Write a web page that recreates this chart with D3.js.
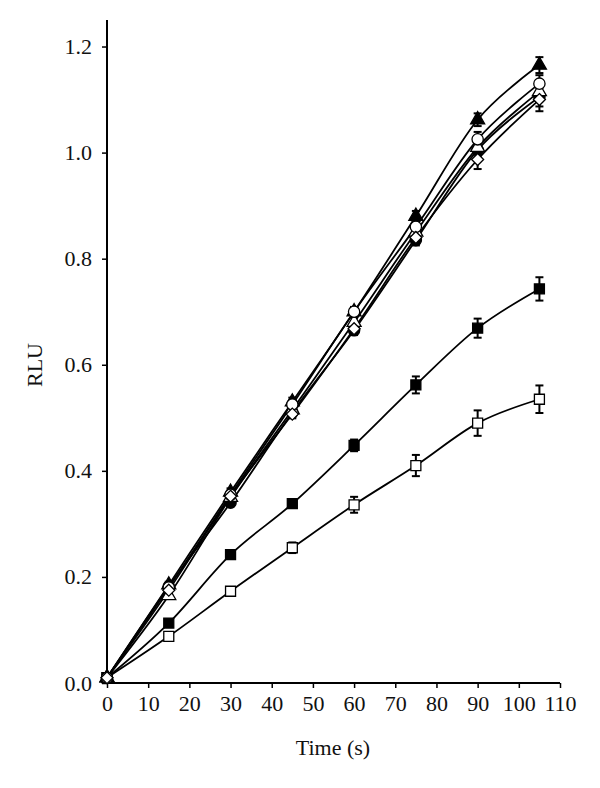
<!DOCTYPE html>
<html>
<head>
<meta charset="utf-8">
<title>RLU vs time</title>
<script src="https://d3js.org/d3.v7.min.js"></script>
<style>
  body { margin: 0; background: #fff; }
  text { font-family: "Liberation Serif", "DejaVu Serif", serif; fill: #111; }
</style>
</head>
<body>
<div id="chart"></div>
<script>
// time points (s)
var times = [0, 15, 30, 45, 60, 75, 90, 105];

// series values (RLU)
var triFilled   = [0.010, 0.185, 0.360, 0.530, 0.700, 0.880, 1.062, 1.165];
var circleOpen  = [0.010, 0.180, 0.355, 0.525, 0.700, 0.860, 1.025, 1.130];
var triOpen     = [0.010, 0.165, 0.350, 0.515, 0.680, 0.850, 1.010, 1.115];
var circleFill  = [0.010, 0.182, 0.340, 0.510, 0.665, 0.835, 1.005, 1.105];
var diamondOpen = [0.010, 0.175, 0.352, 0.507, 0.668, 0.840, 0.987, 1.100];
var squareFill  = [0.010, 0.113, 0.242, 0.338, 0.448, 0.562, 0.669, 0.743];
var squareOpen  = [0.010, 0.088, 0.173, 0.255, 0.336, 0.410, 0.490, 0.535];

// error bar half-widths
var triFilledErr   = [0.004, 0.006, 0.007, 0.008, 0.009, 0.010, 0.012, 0.015];
var circleOpenErr  = [0.004, 0.006, 0.007, 0.008, 0.009, 0.010, 0.014, 0.016];
var triOpenErr     = [0.004, 0.006, 0.007, 0.008, 0.009, 0.010, 0.014, 0.018];
var circleFillErr  = [0.004, 0.006, 0.007, 0.008, 0.009, 0.010, 0.014, 0.018];
var diamondOpenErr = [0.004, 0.006, 0.007, 0.008, 0.009, 0.012, 0.018, 0.022];
var squareFillErr  = [0.003, 0.006, 0.006, 0.007, 0.011, 0.016, 0.018, 0.022];
var squareOpenErr  = [0.003, 0.005, 0.006, 0.010, 0.015, 0.020, 0.024, 0.026];

var xTicks = [0, 10, 20, 30, 40, 50, 60, 70, 80, 90, 100, 110];
var yTicks = [0.0, 0.2, 0.4, 0.6, 0.8, 1.0, 1.2];

var series = [
  {vals: squareOpen,  err: squareOpenErr,  shape: "square",   fill: "#fff"},
  {vals: squareFill,  err: squareFillErr,  shape: "square",   fill: "#000"},
  {vals: circleFill,  err: circleFillErr,  shape: "circle",   fill: "#000"},
  {vals: triOpen,     err: triOpenErr,     shape: "triangle", fill: "#fff"},
  {vals: triFilled,   err: triFilledErr,   shape: "triangle", fill: "#000"},
  {vals: circleOpen,  err: circleOpenErr,  shape: "circle",   fill: "#fff"},
  {vals: diamondOpen, err: diamondOpenErr, shape: "diamond",  fill: "#fff"}
];

var W = 600, H = 788;
var svg = d3.select("#chart").append("svg").attr("width", W).attr("height", H);

var x = d3.scaleLinear().domain([0, 110]).range([107, 560]);
var y = d3.scaleLinear().domain([0, 1.25]).range([683, 20]);

// axes
var xAxis = d3.axisBottom(x).tickValues(xTicks).tickSize(5).tickSizeOuter(0).tickFormat(d3.format("d"));
var gx = svg.append("g").attr("transform", "translate(0," + y(0) + ")").call(xAxis);
gx.select(".domain").attr("stroke", "#000").attr("stroke-width", 2).attr("d", "M" + x(0) + ",0H" + x(110));
gx.selectAll(".tick line").attr("stroke-width", 1.5);
gx.selectAll("text").attr("font-size", 22).attr("dy", "0.9em");

var yAxis = d3.axisLeft(y).tickValues(yTicks).tickSize(5).tickSizeOuter(0).tickFormat(d3.format(".1f"));
var gy = svg.append("g").attr("transform", "translate(" + x(0) + ",0)").call(yAxis);
gy.select(".domain").attr("stroke", "#000").attr("stroke-width", 2).attr("d", "M0," + y(0) + "V" + y(1.25));
gy.selectAll(".tick line").attr("stroke-width", 1.5);
gy.selectAll("text").attr("font-size", 22).attr("x", -15);

svg.append("text").attr("x", 333).attr("y", 755).attr("text-anchor", "middle")
  .attr("font-size", 22).text("Time (s)");
svg.append("text").attr("transform", "translate(42,365) rotate(-90)")
  .attr("text-anchor", "middle").attr("font-size", 22).text("RLU");

// smooth lines
var line = d3.line()
  .x(function(d, i) { return x(times[i]); })
  .y(function(d) { return y(d); })
  .curve(d3.curveCatmullRom.alpha(0));

series.forEach(function(s) {
  svg.append("path").datum(s.vals).attr("d", line)
    .attr("fill", "none").attr("stroke", "#000").attr("stroke-width", 1.8);
});

// error bars
series.forEach(function(s) {
  var g = svg.append("g").attr("stroke", "#000").attr("stroke-width", 2);
  s.vals.forEach(function(v, i) {
    if (i === 0) return;
    var cx = x(times[i]), top = y(v + s.err[i]), bot = y(v - s.err[i]);
    g.append("line").attr("x1", cx).attr("x2", cx).attr("y1", top).attr("y2", bot);
    g.append("line").attr("x1", cx - 4).attr("x2", cx + 4).attr("y1", top).attr("y2", top);
    g.append("line").attr("x1", cx - 4).attr("x2", cx + 4).attr("y1", bot).attr("y2", bot);
  });
});

// markers
var wideDiamond = {
  draw: function(ctx, size) {
    var r = Math.sqrt(size / 2);
    ctx.moveTo(0, -r); ctx.lineTo(r, 0); ctx.lineTo(0, r); ctx.lineTo(-r, 0); ctx.closePath();
  }
};
var sym = {
  square: d3.symbol().type(d3.symbolSquare).size(100),
  circle: d3.symbol().type(d3.symbolCircle).size(100),
  triangle: d3.symbol().type(d3.symbolTriangle).size(85),
  diamond: d3.symbol().type(wideDiamond).size(72)
};
series.forEach(function(s) {
  svg.append("g").selectAll("path").data(s.vals).join("path")
    .attr("d", sym[s.shape]())
    .attr("transform", function(d, i) { return "translate(" + x(times[i]) + "," + y(d) + ")"; })
    .attr("fill", s.fill).attr("stroke", "#000").attr("stroke-width", 1.3);
});
</script>
</body>
</html>
